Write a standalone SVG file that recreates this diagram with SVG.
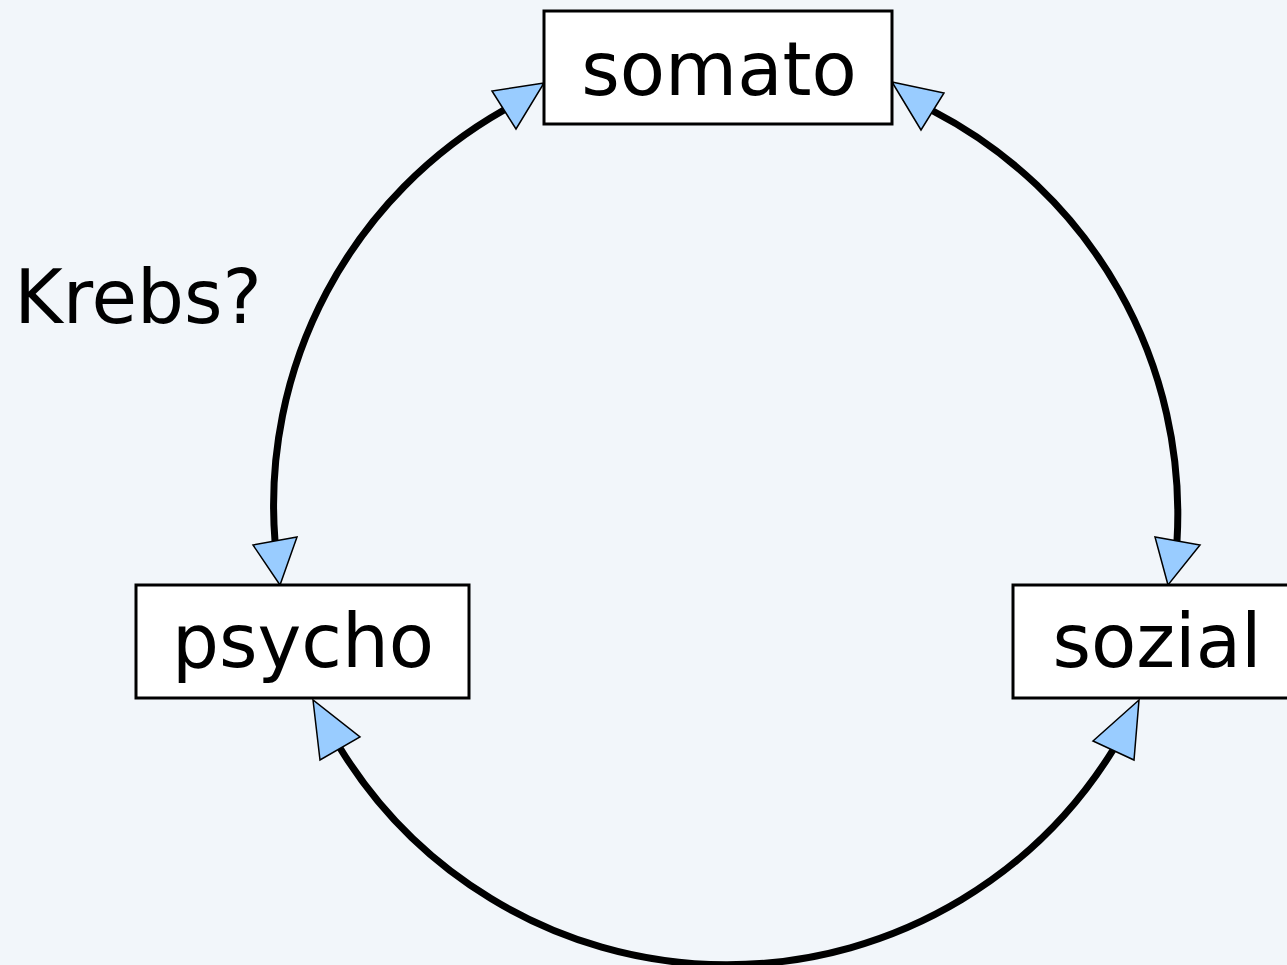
<svg xmlns="http://www.w3.org/2000/svg" width="1287" height="965" viewBox="0 0 1287 965">
<style>
.box{fill:#fff;stroke:#000;stroke-width:3}
.lbl{font-family:"DejaVu Sans",Verdana,sans-serif;font-size:74px;fill:#000;text-anchor:middle}
.arc{fill:none;stroke:#000;stroke-width:7}
.ah{fill:#99ccff;stroke:#000;stroke-width:1.5;stroke-linejoin:miter}
</style>
<rect width="1287" height="965" fill="#f2f6fa"/>
<g id="connectors">
<path class="arc" d="M 504 110 A 454 454 0 0 0 275 541"/>
<path class="arc" d="M 933 111 A 454 454 0 0 1 1177 541"/>
<path class="arc" d="M 340 748 A 454 454 0 0 0 1113 750"/>
<polygon class="ah" points="544,83 492,91 516,129"/>
<polygon class="ah" points="892,82 944,93 921,130"/>
<polygon class="ah" points="280,585 253,545 297,537"/>
<polygon class="ah" points="313,700 320,760 360,737"/>
<polygon class="ah" points="1168,585 1155,537 1200,545"/>
<polygon class="ah" points="1139,700 1093,741 1134,760"/>
</g>
<g id="somato">
<rect class="box" x="544" y="11" width="348" height="113"/>
<text class="lbl" x="719" y="95">somato</text>
</g>
<g id="psycho">
<rect class="box" x="136" y="585" width="333" height="113"/>
<text class="lbl" x="303" y="667">psycho</text>
</g>
<g id="sozial">
<rect class="box" x="1013" y="585" width="290" height="113"/>
<text class="lbl" x="1157" y="667">sozial</text>
</g>
<g id="krebs">
<text class="lbl" x="138" y="323">Krebs?</text>
</g>
</svg>
